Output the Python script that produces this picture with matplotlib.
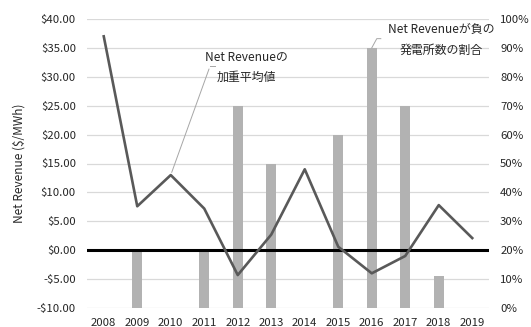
import matplotlib.pyplot as plt
from matplotlib.ticker import FuncFormatter, MultipleLocator

plt.rcParams['font.family'] = ['Noto Sans CJK JP', 'DejaVu Sans']

years = ['2008', '2009', '2010', '2011', '2012', '2013',
         '2014', '2015', '2016', '2017', '2018', '2019']
# weighted average net revenue ($/MWh)
net_revenue = [37.0, 7.6, 13.0, 7.2, -4.3, 2.7, 14.0, 0.6, -4.0, -1.0, 7.8, 2.1]
# share of plants with negative net revenue
neg_share = [0.0, 0.20, 0.0, 0.20, 0.70, 0.50, 0.0, 0.60, 0.90, 0.70, 0.11, 0.0]

x = list(range(len(years)))

fig = plt.figure(figsize=(5.31, 3.27), dpi=100)
ax = fig.add_axes([87 / 531, 19 / 327, 402 / 531, 289 / 327])
ax2 = ax.twinx()

# bars on the percentage scale (right side)
for g in range(11):
    ax.axhline(g / 10, color='#d9d9d9', lw=0.9, zorder=0)
ax.bar(x, neg_share, width=0.3, color='#b2b2b2', zorder=2)
ax.set_ylim(0, 1)
ax.set_xlim(-0.5, len(years) - 0.5)
ax.yaxis.set_major_locator(MultipleLocator(0.1))
ax.yaxis.set_major_formatter(FuncFormatter(lambda v, p: f'{v * 100:.0f}%'))
ax.yaxis.set_ticks_position('right')

# net revenue line (left side)
ax2.axhline(0, color='black', lw=2.2, zorder=3)
ax2.plot(x, net_revenue, color='#595959', lw=1.9, zorder=4)
ax2.set_ylim(-10, 40)
ax2.yaxis.set_major_locator(MultipleLocator(5))
ax2.yaxis.set_major_formatter(FuncFormatter(
    lambda v, p: f'-${-v:.2f}' if v < 0 else f'${v:.2f}'))
ax2.yaxis.set_ticks_position('left')
ax2.yaxis.set_label_position('left')
ax2.set_ylabel('Net Revenue ($/MWh)', fontsize=8.5, color='#262626', labelpad=8)

ax.set_xticks(x)
ax.set_xticklabels(years)
for a in (ax, ax2):
    for s in a.spines.values():
        s.set_visible(False)
    a.tick_params(length=0, labelsize=8.2, colors='#262626', pad=8)
ax.tick_params(axis='x', pad=7)

# callouts
ax2.annotate('', xy=(2, 13.0), xytext=(3.17, 31.8),
             arrowprops=dict(arrowstyle='-', color='#a6a6a6', lw=0.7))
ax2.plot([3.17, 3.32], [31.8, 31.8], color='#a6a6a6', lw=0.7)
ax2.text(4.25, 31.6, 'Net Revenueの\n加重平均値', ha='center', va='center',
         multialignment='center', fontsize=8.6, color='#262626', linespacing=1.75)

ax2.plot([8.0, 8.15, 8.27], [35.0, 36.6, 36.6], color='#a6a6a6', lw=0.7)
ax2.text(10.07, 36.4, 'Net Revenueが負の\n発電所数の割合', ha='center', va='center',
         multialignment='center', fontsize=8.6, color='#262626', linespacing=1.75)

fig.savefig('out.png', dpi=100)
